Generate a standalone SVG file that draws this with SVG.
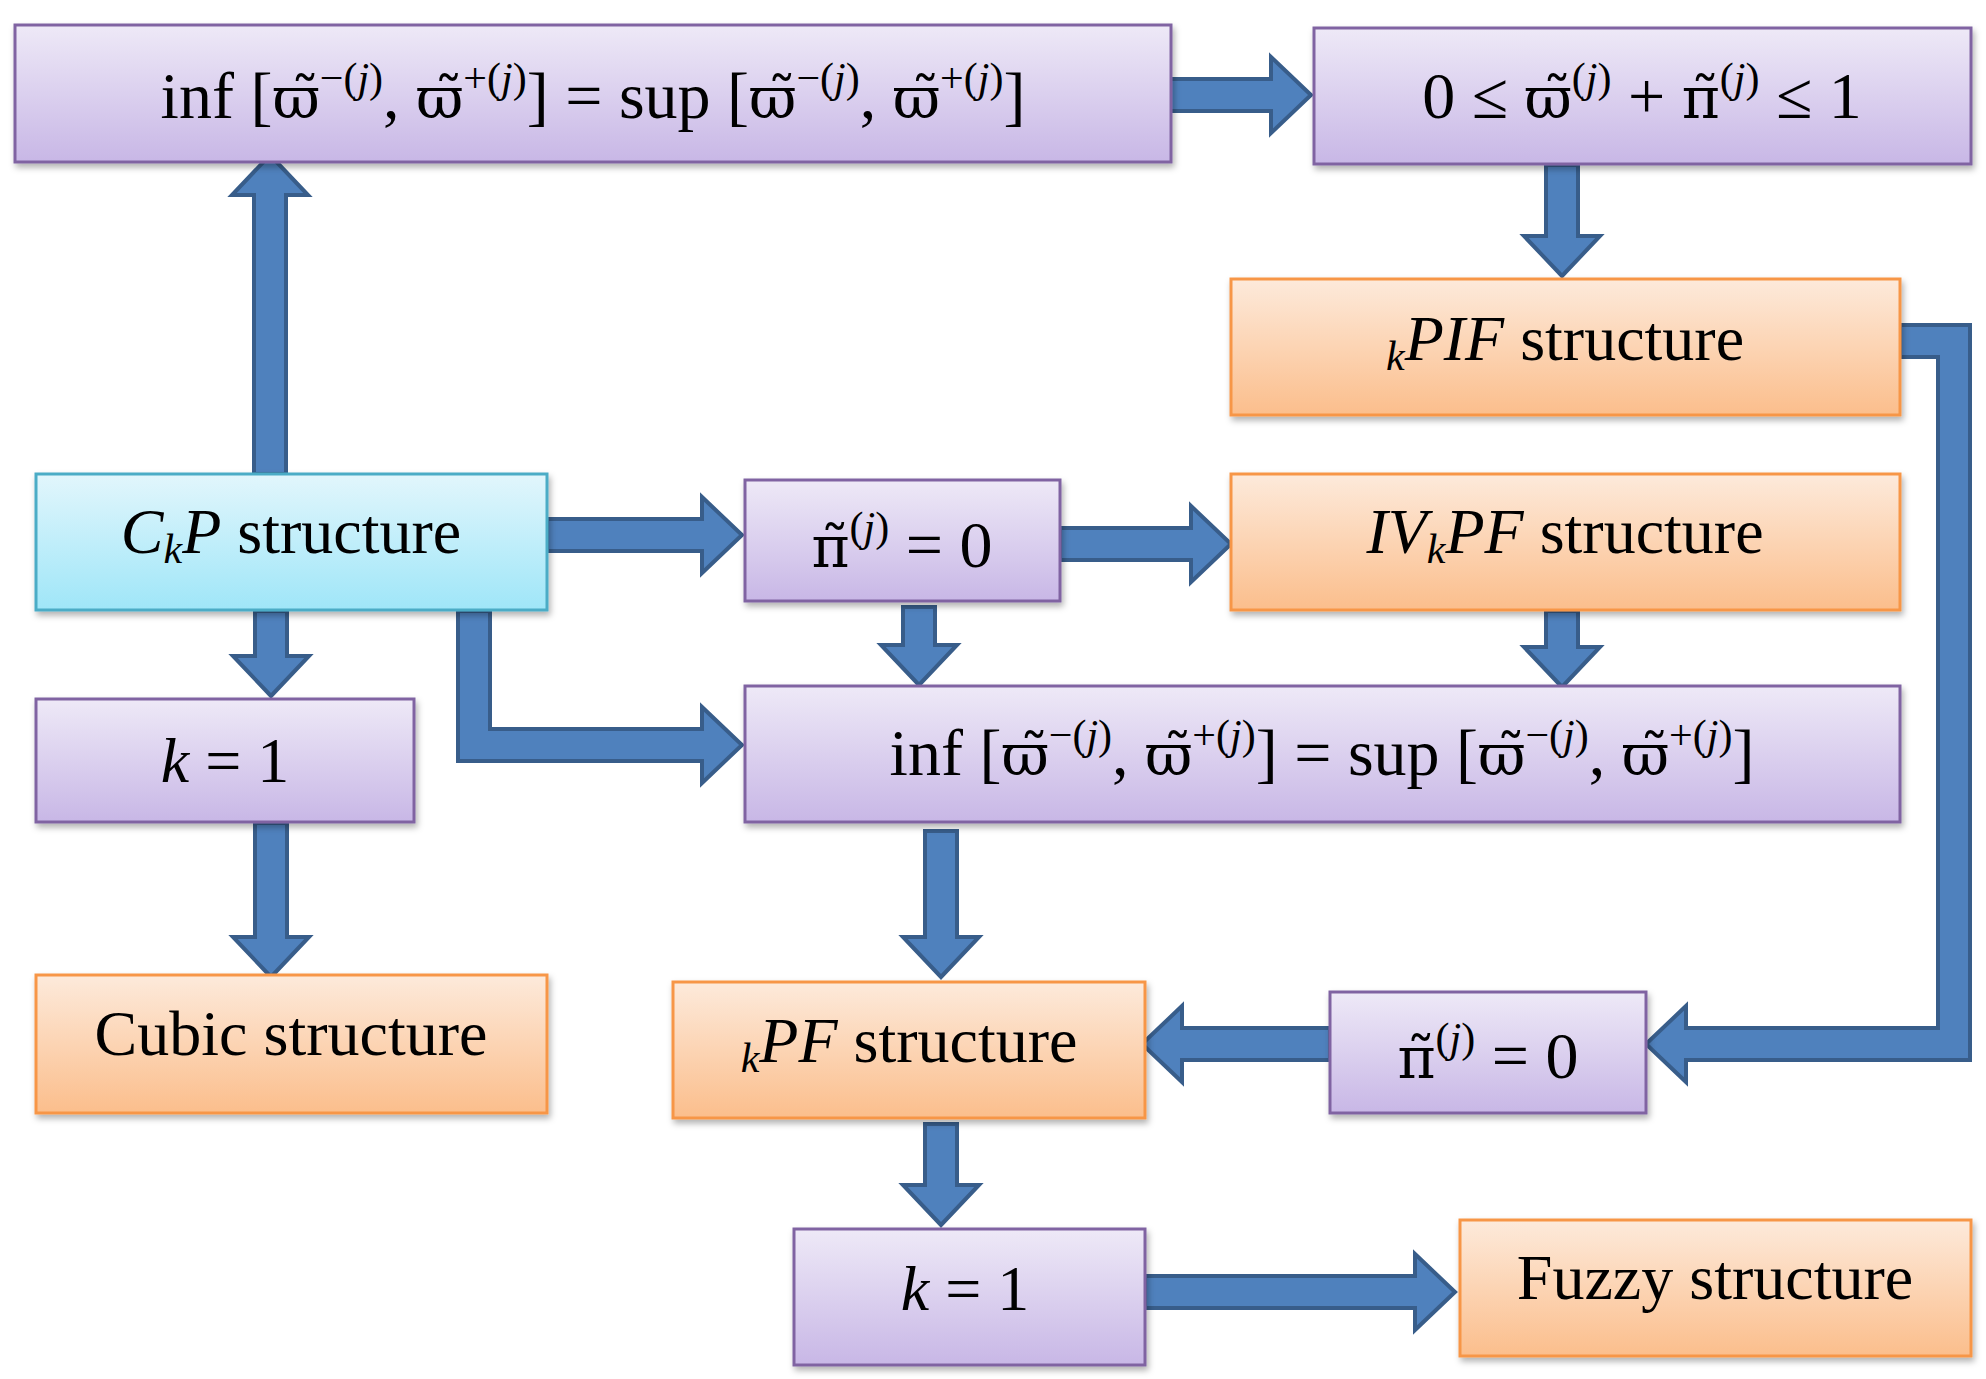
<svg xmlns="http://www.w3.org/2000/svg" width="1986" height="1379" viewBox="0 0 1986 1379">
<defs>
<linearGradient id="gp" x1="0" y1="0" x2="0" y2="1"><stop offset="0" stop-color="#eee9f7"/><stop offset="1" stop-color="#c8b7e6"/></linearGradient>
<linearGradient id="go" x1="0" y1="0" x2="0" y2="1"><stop offset="0" stop-color="#fdeadb"/><stop offset="1" stop-color="#fbbe8c"/></linearGradient>
<linearGradient id="gc" x1="0" y1="0" x2="0" y2="1"><stop offset="0" stop-color="#e2f6fc"/><stop offset="1" stop-color="#9fe6f8"/></linearGradient>
<filter id="sh" x="-5%" y="-5%" width="110%" height="115%"><feDropShadow dx="2" dy="4" stdDeviation="3" flood-color="#000" flood-opacity="0.3"/></filter>
</defs>
<style>
.p{fill:url(#gp);stroke:#8064a2;stroke-width:3;filter:url(#sh)}
.o{fill:url(#go);stroke:#f79646;stroke-width:3;filter:url(#sh)}
.c{fill:url(#gc);stroke:#4bacc6;stroke-width:3;filter:url(#sh)}
text{font-family:"Liberation Serif","DejaVu Serif",serif;font-size:64px;fill:#000;text-anchor:middle}
.f{font-size:66px}
.g{font-family:"DejaVu Serif",serif;font-size:58px}
.i{font-style:italic}
.s{font-size:42px}
.a{fill:#4f81bd;stroke:#385d8a;stroke-width:4}
</style>
<rect width="1986" height="1379" fill="#fff"/>
<g id="connectors">
<polygon class="a" points="254,474 254,195 232,195 270,155 308,195 286,195 286,474"/>
<polygon class="a" points="1169,79 1271,79 1271,57 1311,95 1271,133 1271,111 1169,111"/>
<polygon class="a" points="1546,165 1546,236 1524,236 1562,276 1600,236 1578,236 1578,165"/>
<polygon class="a" points="1900,325 1970,325 1970,1060 1686,1060 1686,1082 1646,1044 1686,1006 1686,1028 1938,1028 1938,357 1900,357"/>
<polygon class="a" points="547,519 702,519 702,497 742,535 702,573 702,551 547,551"/>
<polygon class="a" points="1060,528 1191,528 1191,506 1231,544 1191,582 1191,560 1060,560"/>
<polygon class="a" points="903,607 903,645 881,645 919,685 957,645 935,645 935,607"/>
<polygon class="a" points="1546,611 1546,647 1524,647 1562,687 1600,647 1578,647 1578,611"/>
<polygon class="a" points="458,611 458,761 702,761 702,783 742,745 702,707 702,729 490,729 490,611"/>
<polygon class="a" points="255,611 255,656 233,656 271,696 309,656 287,656 287,611"/>
<polygon class="a" points="255,823 255,937 233,937 271,977 309,937 287,937 287,823"/>
<polygon class="a" points="925,831 925,937 903,937 941,977 979,937 957,937 957,831"/>
<polygon class="a" points="1330,1028 1182,1028 1182,1006 1142,1044 1182,1082 1182,1060 1330,1060"/>
<polygon class="a" points="925,1124 925,1185 903,1185 941,1225 979,1185 957,1185 957,1124"/>
<polygon class="a" points="1145,1276 1415,1276 1415,1254 1455,1292 1415,1330 1415,1308 1145,1308"/>
</g>
<g id="n_top"><rect class="p" x="15" y="25" width="1156" height="137"/>
<text class="f" x="593" y="118">inf [<tspan class="g">ϖ̃</tspan><tspan class="s" dy="-26">−(<tspan class="i">j</tspan>)</tspan><tspan dy="26">, </tspan><tspan class="g">ϖ̃</tspan><tspan class="s" dy="-26">+(<tspan class="i">j</tspan>)</tspan><tspan dy="26">] = sup [</tspan><tspan class="g">ϖ̃</tspan><tspan class="s" dy="-26">−(<tspan class="i">j</tspan>)</tspan><tspan dy="26">, </tspan><tspan class="g">ϖ̃</tspan><tspan class="s" dy="-26">+(<tspan class="i">j</tspan>)</tspan><tspan dy="26">]</tspan></text></g>
<g id="n_ineq"><rect class="p" x="1314" y="28" width="657" height="136"/>
<text class="f" x="1642" y="118">0 ≤ <tspan class="g">ϖ̃</tspan><tspan class="s" dy="-26">(<tspan class="i">j</tspan>)</tspan><tspan dy="26"> + </tspan><tspan class="g">π̃</tspan><tspan class="s" dy="-26">(<tspan class="i">j</tspan>)</tspan><tspan dy="26"> ≤ 1</tspan></text></g>
<g id="n_kpif"><rect class="o" x="1231" y="279" width="669" height="136"/>
<text x="1565" y="360"><tspan class="s i" dy="10">k</tspan><tspan class="i" dy="-10">PIF</tspan> structure</text></g>
<g id="n_ckp"><rect class="c" x="36" y="474" width="511" height="136"/>
<text x="291" y="553"><tspan class="i">C</tspan><tspan class="s i" dy="10">k</tspan><tspan class="i" dy="-10">P</tspan> structure</text></g>
<g id="n_pi1"><rect class="p" x="745" y="480" width="315" height="121"/>
<text class="f" x="902" y="567"><tspan class="g">π̃</tspan><tspan class="s" dy="-26">(<tspan class="i">j</tspan>)</tspan><tspan dy="26"> = 0</tspan></text></g>
<g id="n_ivkpf"><rect class="o" x="1231" y="474" width="669" height="136"/>
<text x="1565" y="553"><tspan class="i">IV</tspan><tspan class="s i" dy="10">k</tspan><tspan class="i" dy="-10">PF</tspan> structure</text></g>
<g id="n_k1a"><rect class="p" x="36" y="699" width="378" height="123"/>
<text x="225" y="782"><tspan class="i">k</tspan> = 1</text></g>
<g id="n_mid"><rect class="p" x="745" y="686" width="1155" height="136"/>
<text class="f" x="1322" y="775">inf [<tspan class="g">ϖ̃</tspan><tspan class="s" dy="-26">−(<tspan class="i">j</tspan>)</tspan><tspan dy="26">, </tspan><tspan class="g">ϖ̃</tspan><tspan class="s" dy="-26">+(<tspan class="i">j</tspan>)</tspan><tspan dy="26">] = sup [</tspan><tspan class="g">ϖ̃</tspan><tspan class="s" dy="-26">−(<tspan class="i">j</tspan>)</tspan><tspan dy="26">, </tspan><tspan class="g">ϖ̃</tspan><tspan class="s" dy="-26">+(<tspan class="i">j</tspan>)</tspan><tspan dy="26">]</tspan></text></g>
<g id="n_cubic"><rect class="o" x="36" y="975" width="511" height="138"/>
<text x="291" y="1055">Cubic structure</text></g>
<g id="n_kpf"><rect class="o" x="673" y="982" width="472" height="136"/>
<text x="909" y="1062"><tspan class="s i" dy="10">k</tspan><tspan class="i" dy="-10">PF</tspan> structure</text></g>
<g id="n_pi2"><rect class="p" x="1330" y="992" width="316" height="121"/>
<text class="f" x="1488" y="1078"><tspan class="g">π̃</tspan><tspan class="s" dy="-26">(<tspan class="i">j</tspan>)</tspan><tspan dy="26"> = 0</tspan></text></g>
<g id="n_k1b"><rect class="p" x="794" y="1229" width="351" height="136"/>
<text x="965" y="1310"><tspan class="i">k</tspan> = 1</text></g>
<g id="n_fuzzy"><rect class="o" x="1460" y="1220" width="511" height="136"/>
<text x="1715" y="1299">Fuzzy structure</text></g>
</svg>
